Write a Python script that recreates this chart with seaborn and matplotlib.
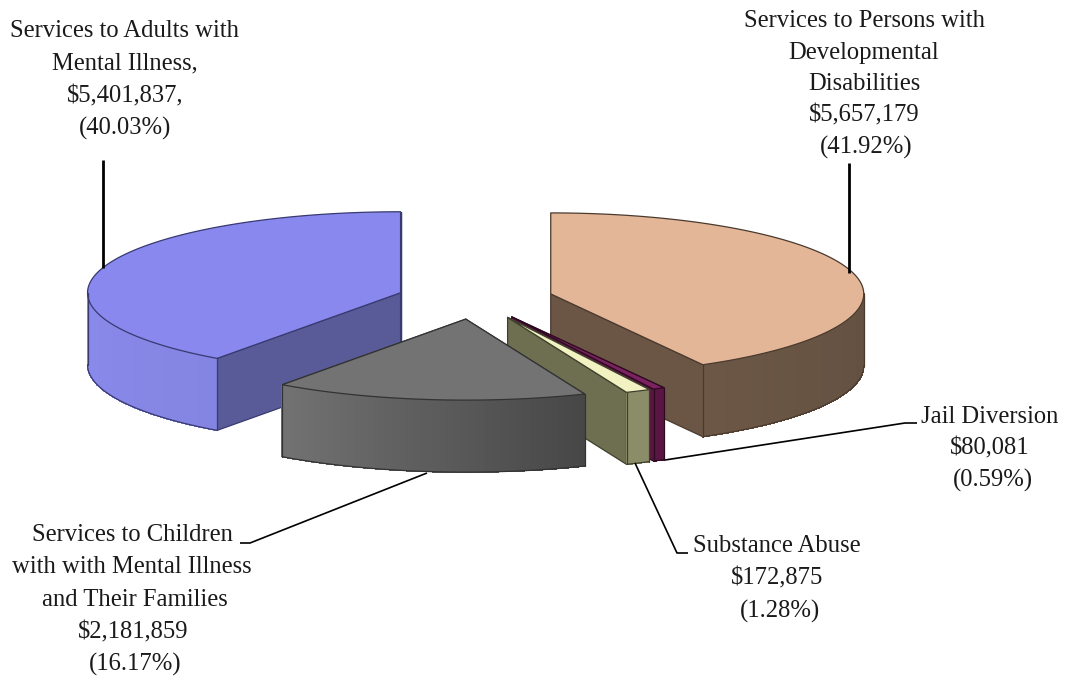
"""Exploded 3D pie of the services budget, drawn as projected slices."""

import matplotlib.pyplot as plt
import numpy as np
import seaborn as sns

categories = [
    "Services to Persons with Developmental Disabilities",
    "Jail Diversion",
    "Substance Abuse",
    "Services to Children with with Mental Illness and Their Families",
    "Services to Adults with Mental Illness",
]
amounts = [5657179, 80081, 172875, 2181859, 5401837]

top_colors = ["#E4B698", "#7B2260", "#F1F1C2", "#737373", "#8888EE"]
cut_colors = ["#6B5645", "#5A1642", "#6E6F50", "#5F5F5F", "#595B98"]
# wall shades run clockwise, from the first visible angle to the last
wall_start = ["#635040", "#5A1642", "#8B8D69", "#474747", "#8484E2"]
wall_end = ["#6C5746", "#5A1642", "#8B8D69", "#727272", "#8A8AEC"]
edge_colors = ["#4A3A2E", "#2E0A20", "#3F402C", "#333333", "#383A70"]

label_lines = [
    ["Services to Persons with", "Developmental", "Disabilities", "$5,657,179", "(41.92%)"],
    ["Jail Diversion", "$80,081", "(0.59%)"],
    ["Substance Abuse", "$172,875", "(1.28%)"],
    ["Services to Children", "with with Mental Illness", "and Their Families", "$2,181,859", "(16.17%)"],
    ["Services to Adults with", "Mental Illness,", "$5,401,837,", "(40.03%)"],
]
label_x = [
    [864, 864, 864, 864, 866],
    [990, 990, 993],
    [777, 777, 780],
    [132, 132, 135, 133, 135],
    [125, 125, 125, 125],
]
label_y = [
    [21, 53, 84, 115, 147],
    [417, 448, 480],
    [546, 578, 611],
    [535, 567, 600, 632, 664],
    [31, 63, 96, 128],
]
leaders = [
    ([849, 849], [163, 273], 2.0),
    ([665, 905, 917], [460, 423, 423], 1.2),
    ([635, 677, 688], [463, 553, 553], 1.2),
    ([427, 250, 240], [473, 543, 543], 1.2),
    ([103, 103], [160, 268], 2.0),
]

# pie geometry in pixels
CX, CY = 475, 299
RX, RY = 313, 81
DEPTH = 72
EXPLODE = 0.25


def rim(theta, ox, oy):
    # theta is clockwise from 12 o'clock, in radians
    return ox + RX * np.sin(theta), oy - RY * np.cos(theta)


def draw_slice(ax, start, end, i):
    mid = (start + end) / 2
    ox = CX + EXPLODE * RX * np.sin(mid)
    oy = CY - EXPLODE * RY * np.cos(mid)
    edge = edge_colors[i]
    kw = dict(edgecolor=edge, linewidth=0.9, joinstyle="round")

    # cut faces; whichever faces away ends up covered by the later ones
    for a in [start, end]:
        x, y = rim(a, ox, oy)
        ax.fill([ox, x, x, ox], [oy, y, y + DEPTH, oy + DEPTH], facecolor=cut_colors[i], **kw)

    # outer wall, only the part turned toward the viewer
    lo, hi = max(start, np.pi / 2), min(end, 3 * np.pi / 2)
    if hi > lo:
        n = max(int(np.degrees(hi - lo) * 1.5), 2)
        ts = np.linspace(lo, hi, n + 1)
        shades = sns.blend_palette([wall_start[i], wall_end[i]], n)
        for k in range(n):
            x, y = rim(ts[k:k + 2], ox, oy)
            ax.fill(
                [x[0], x[1], x[1], x[0]],
                [y[0], y[1], y[1] + DEPTH, y[0] + DEPTH],
                facecolor=shades[k],
                edgecolor=shades[k],
                linewidth=0.5,
                antialiased=False,
            )
        x, y = rim(ts, ox, oy)
        ax.plot(x, y + DEPTH, color=edge, lw=0.9)
        ax.plot([x[0], x[0]], [y[0], y[0] + DEPTH], color=edge, lw=0.9)
        ax.plot([x[-1], x[-1]], [y[-1], y[-1] + DEPTH], color=edge, lw=0.9)

    # top face
    ts = np.linspace(start, end, 200)
    x, y = rim(ts, ox, oy)
    ax.fill(np.r_[ox, x], np.r_[oy, y], facecolor=top_colors[i], **kw)


def main() -> None:
    sns.set_theme(style="white")
    plt.rcParams["font.family"] = ["Liberation Serif", "DejaVu Serif"]

    fig = plt.figure(figsize=(10.65, 6.79), dpi=100)
    ax = fig.add_axes([0, 0, 1, 1])
    ax.set_xlim(0, 1065)
    ax.set_ylim(679, 0)
    ax.axis("off")

    shares = np.array(amounts) / sum(amounts)
    edges = np.r_[0, np.cumsum(shares)] * 2 * np.pi

    # painter's order: back slices first
    for i in [4, 0, 1, 2, 3]:
        draw_slice(ax, edges[i], edges[i + 1], i)

    for xs, ys, lw in leaders:
        ax.plot(xs, ys, color="black", lw=lw, solid_capstyle="butt")

    for lines, xs, ys in zip(label_lines, label_x, label_y):
        for line, x, y in zip(lines, xs, ys):
            ax.text(x, y, line, ha="center", va="center", fontsize=17.7,
                    color="#1a1a1a", parse_math=False)

    fig.savefig("out.png", dpi=100)


if __name__ == "__main__":
    main()
